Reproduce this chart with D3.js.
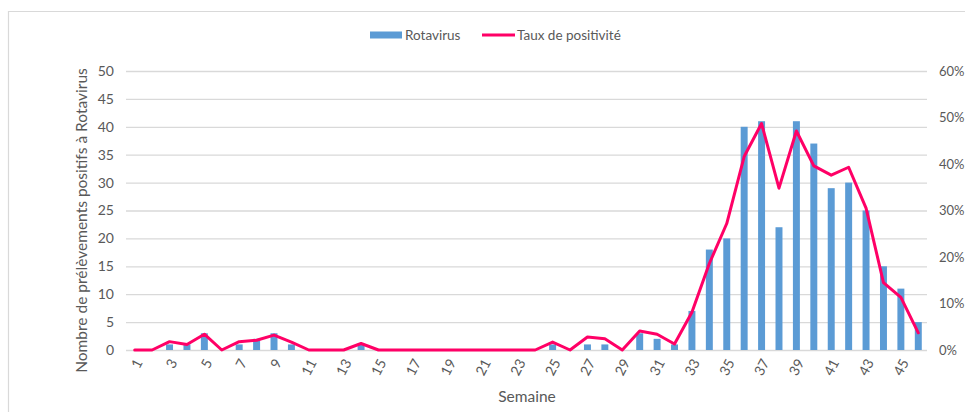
<!DOCTYPE html>
<html><head><meta charset="utf-8">
<script src="https://cdn.jsdelivr.net/npm/d3@7"></script>
<style>
body{margin:0;background:#fff;}
svg{display:block;font-family:Lato,"Open Sans",sans-serif;}
</style></head>
<body>
<svg id="c" width="965" height="412"></svg>
<script>
const weeks = d3.range(1, 47);
const rotavirus = [0,0,1,1,3,0,1,2,3,1,0,0,0,1,0,0,0,0,0,0,0,0,0,0,1,0,1,1,0,3,2,1,7,18,20,40,41,22,41,37,29,30,25,15,11,5];
const taux = [0,0,1.8,1.2,3.4,0,1.8,2.1,3.2,1.7,0,0,0,1.4,0,0,0,0,0,0,0,0,0,0,1.7,0,2.8,2.4,0,4.1,3.4,1.3,8.1,18.6,27.2,41.6,48.7,34.8,47.1,39.6,37.6,39.3,30.5,14.5,11.3,3.7];
const leftTicks = d3.range(0, 55, 5);
const rightTicks = [0,10,20,30,40,50,60];
const xTicks = weeks.filter(w => w % 2 === 1);

const svg = d3.select("#c");
const L = 126, R = 927, T = 71, B = 350;
const textCol = "#595959", gridCol = "#d9d9d9";

// chart border
svg.append("path").attr("d", "M8.5,412 V11.5 H965").attr("fill","none").attr("stroke", gridCol).attr("stroke-width",1.2);

const x = d3.scaleBand().domain(weeks).range([L, R]).paddingInner(0.6).paddingOuter(0.3);
const yL = d3.scaleLinear().domain([0, 50]).range([B, T]);
const yR = d3.scaleLinear().domain([0, 60]).range([B, T]);

// gridlines
const grid = svg.append("g").attr("transform", `translate(${L},0)`)
  .call(d3.axisLeft(yL).tickValues(leftTicks).tickSize(-(R-L)).tickFormat(""));
grid.select(".domain").remove();
grid.selectAll("line").attr("stroke", gridCol).attr("stroke-width", 1.3);

// left axis labels
const ga = svg.append("g").attr("transform", `translate(${L-12},0)`)
  .call(d3.axisLeft(yL).tickValues(leftTicks).tickSize(0).tickPadding(0));
ga.select(".domain").remove();
ga.selectAll("text").attr("fill", textCol).style("font-size","14px").attr("font-family","Lato");

// right axis labels
const gr = svg.append("g").attr("transform", `translate(${R+12},0)`)
  .call(d3.axisRight(yR).tickValues(rightTicks).tickSize(0).tickPadding(0).tickFormat(d => d + "%"));
gr.select(".domain").remove();
gr.selectAll("text").attr("fill", textCol).style("font-size","13px").attr("font-family","Lato");

// x axis
const gx = svg.append("g").attr("transform", `translate(0,${B})`)
  .call(d3.axisBottom(x).tickValues(xTicks).tickSize(0).tickPadding(0));
gx.select(".domain").remove();
gx.selectAll("text").attr("fill", textCol).style("font-size","14px").attr("font-family","Lato")
  .attr("text-anchor","end").attr("dy","0.35em")
  .attr("transform","translate(4,10) rotate(-62)").attr("x",0).attr("y",0);

// bars
svg.append("g").selectAll("rect").data(weeks).join("rect")
  .attr("x", (w) => x(w)).attr("width", x.bandwidth())
  .attr("y", (w, i) => yL(rotavirus[i])).attr("height", (w, i) => B - yL(rotavirus[i]))
  .attr("fill", "#5b9bd5");

// line
const line = d3.line().x((d, i) => x(weeks[i]) + x.bandwidth()/2).y(d => yR(d));
svg.append("path").datum(taux).attr("d", line).attr("fill","none")
  .attr("stroke","#ff0066").attr("stroke-width",3).attr("stroke-linejoin","round").attr("stroke-linecap","round");

// axis titles
svg.append("text").attr("transform", `translate(87,${(T+B)/2+10}) rotate(-90)`).attr("text-anchor","middle")
  .attr("fill", textCol).style("font-size","15.5px").text("Nombre de prélèvements positifs à Rotavirus");
svg.append("text").attr("x", 527).attr("y", 402).attr("text-anchor","middle")
  .attr("fill", textCol).style("font-size","15.5px").text("Semaine");

// legend
const lg = svg.append("g");
lg.append("rect").attr("x",370).attr("y",31.5).attr("width",32).attr("height",7).attr("fill","#5b9bd5");
lg.append("text").attr("x",405).attr("y",39.5).attr("fill",textCol).style("font-size","13.5px").text("Rotavirus");
lg.append("line").attr("x1",482).attr("x2",515).attr("y1",35).attr("y2",35).attr("stroke","#ff0066").attr("stroke-width",3);
lg.append("text").attr("x",517).attr("y",39.5).attr("fill",textCol).style("font-size","13.5px").text("Taux de positivité");
</script>
</body></html>
